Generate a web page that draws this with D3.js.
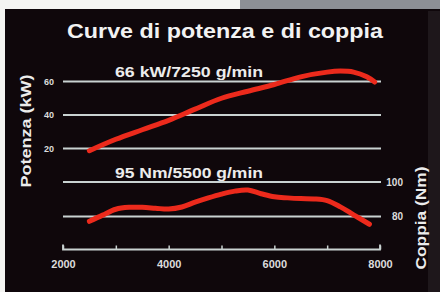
<!DOCTYPE html>
<html><head><meta charset="utf-8">
<script src="https://cdn.jsdelivr.net/npm/d3@7"></script>
<style>html,body{margin:0;padding:0;background:#fff;}svg{display:block;}</style>
</head><body>
<svg id="c" width="440" height="292"></svg>
<script>
const title = "Curve di potenza e di coppia";
const powerLabel = "66 kW/7250 g/min";
const torqueLabel = "95 Nm/5500 g/min";
const xTicks = [2000, 3000, 4000, 5000, 6000, 7000, 8000];
const xTickLabels = [2000, 4000, 6000, 8000];
const powerTicks = [20, 40, 60];
const torqueTicks = [80, 100];

const powerRpm = [2500, 3000, 3500, 4000, 4500, 5000, 5500, 6000, 6500, 7000, 7250, 7500, 7750, 7900];
const powerKW  = [18.7, 25.5, 31.2, 36.8, 43.5, 50.0, 54.2, 58.2, 62.8, 65.6, 66.2, 65.6, 62.8, 59.7];

const torqueRpm = [2500, 2750, 3000, 3250, 3500, 3750, 4000, 4250, 4500, 4750, 5000, 5250, 5500, 5750, 6000, 6250, 6500, 6750, 7000, 7250, 7500, 7800];
const torqueNm  = [77.2, 80.8, 84.2, 85.3, 85.3, 84.8, 84.3, 85.5, 88.3, 90.8, 93.0, 94.7, 95.3, 93.2, 91.4, 90.8, 90.4, 90.2, 89.2, 85.6, 81.0, 75.5];

const svg = d3.select("#c");
const font = "'Liberation Sans', Arial, sans-serif";

// background: white strip, grey texture, black panel
svg.append("rect").attr("x",0).attr("y",0).attr("width",440).attr("height",292).attr("fill","#f4f4f2");
svg.append("rect").attr("x",240).attr("y",0).attr("width",200).attr("height",11).attr("fill","#8d8f95");
svg.append("rect").attr("x",5).attr("y",9).attr("width",435).attr("height",283).attr("fill","#0f070b");
svg.append("rect").attr("x",428).attr("y",11).attr("width",12).attr("height",281).attr("fill","#1e171b");

const x = d3.scaleLinear().domain([2000, 8000]).range([63, 380]);
const yP = d3.scaleLinear().domain([20, 60]).range([148.5, 81.5]);
const yT = d3.scaleLinear().domain([80, 100]).range([216.5, 182]);

const gridColor = "#c9d2d1";
const textColor = "#dcdcdc";

// power grid
svg.append("g").selectAll("line").data(powerTicks).join("line")
  .attr("x1", x(2000)).attr("x2", x(8000)+1)
  .attr("y1", d => yP(d)).attr("y2", d => yP(d))
  .attr("stroke", gridColor).attr("stroke-width", 1.8);
svg.append("g").selectAll("text").data(powerTicks).join("text")
  .attr("x", 54).attr("y", d => yP(d)).attr("dy","0.35em")
  .attr("text-anchor","end").attr("font-family",font).attr("font-weight","bold")
  .attr("font-size",9).attr("fill",textColor).text(d => d);

// torque grid
svg.append("g").selectAll("line").data(torqueTicks).join("line")
  .attr("x1", x(2000)).attr("x2", x(8000)+1)
  .attr("y1", d => yT(d)).attr("y2", d => yT(d))
  .attr("stroke", gridColor).attr("stroke-width", 1.8);
svg.append("g").selectAll("text").data(torqueTicks).join("text")
  .attr("x", 403).attr("y", d => yT(d)).attr("dy","0.35em")
  .attr("text-anchor","end").attr("font-family",font).attr("font-weight","bold")
  .attr("font-size",10).attr("fill",textColor).text(d => d);

// x axis
const xAxis = d3.axisBottom(x).tickValues(xTicks).tickSize(-4).tickFormat(d => xTickLabels.includes(d) ? d : "");
const gx = svg.append("g").attr("transform","translate(0,249.5)").call(xAxis);
gx.select(".domain").attr("stroke", gridColor).attr("stroke-width",1.8).attr("d", `M${x(2000)},-5V0H${x(8000)}V-5`);
gx.selectAll(".tick line").attr("stroke", gridColor).attr("stroke-width",1.5);
gx.selectAll(".tick text").attr("fill", textColor).attr("font-family",font).attr("font-weight","bold")
  .attr("font-size",11).attr("y",10.5).attr("dy","0.71em");

// curves
const red = "#ec2a1c";
const lineP = d3.line().x(d => x(d[0])).y(d => yP(d[1])).curve(d3.curveCatmullRom.alpha(0.5));
const lineT = d3.line().x(d => x(d[0])).y(d => yT(d[1])).curve(d3.curveCatmullRom.alpha(0.5));
svg.append("path").datum(d3.zip(powerRpm, powerKW)).attr("d", lineP)
  .attr("fill","none").attr("stroke",red).attr("stroke-width",5).attr("stroke-linecap","round").attr("stroke-linejoin","round");
svg.append("path").datum(d3.zip(torqueRpm, torqueNm)).attr("d", lineT)
  .attr("fill","none").attr("stroke",red).attr("stroke-width",5).attr("stroke-linecap","round").attr("stroke-linejoin","round");

// texts
svg.append("text").attr("x",225).attr("y",38).attr("text-anchor","middle")
  .attr("font-family",font).attr("font-weight","bold").attr("font-size",21).attr("fill","#f2f2f2")
  .attr("textLength",316).attr("lengthAdjust","spacingAndGlyphs").text(title);
svg.append("text").attr("x",189).attr("y",76.5).attr("text-anchor","middle")
  .attr("font-family",font).attr("font-weight","bold").attr("font-size",14.5).attr("fill","#ececec")
  .attr("textLength",148).attr("lengthAdjust","spacingAndGlyphs").text(powerLabel);
svg.append("text").attr("x",189).attr("y",178).attr("text-anchor","middle")
  .attr("font-family",font).attr("font-weight","bold").attr("font-size",14.5).attr("fill","#ececec")
  .attr("textLength",148).attr("lengthAdjust","spacingAndGlyphs").text(torqueLabel);
svg.append("text").attr("transform","translate(31,131) rotate(-90)").attr("text-anchor","middle")
  .attr("font-family",font).attr("font-weight","bold").attr("font-size",15).attr("fill","#ececec")
  .attr("textLength",113).attr("lengthAdjust","spacingAndGlyphs").text("Potenza (kW)");
svg.append("text").attr("transform","translate(426,218) rotate(-90)").attr("text-anchor","middle")
  .attr("font-family",font).attr("font-weight","bold").attr("font-size",15).attr("fill","#ececec")
  .attr("textLength",103).attr("lengthAdjust","spacingAndGlyphs").text("Coppia (Nm)");
</script>
</body></html>
